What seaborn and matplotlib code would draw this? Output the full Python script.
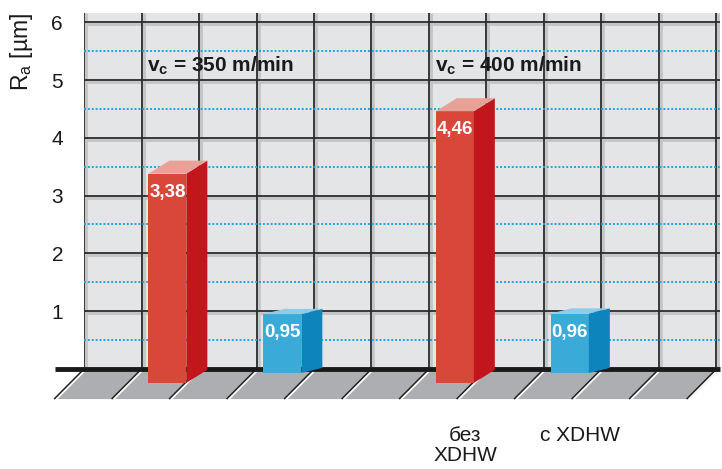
import numpy as np
import pandas as pd
import seaborn as sns
import matplotlib.pyplot as plt
from matplotlib.patches import Polygon
from matplotlib.transforms import offset_copy

# Data
headers = ["350 m/min", "400 m/min"]
series = ["без XDHW", "с XDHW", "без XDHW", "с XDHW"]
ra_values = [3.38, 0.95, 4.46, 0.96]
x_labels = ["", "", "без\nXDHW", "с XDHW"]
y_ticks = [1, 2, 3, 4, 5, 6]

# Colours for each series: front, side, top
colors = {
    "без XDHW": ("#d9473a", "#c3161c", "#e9a197"),
    "с XDHW": ("#3aaad9", "#0e84bc", "#8dcdea"),
}
# depth look of each series (floor level, top offset)
depth = {"без XDHW": (-0.24, 0.225), "с XDHW": (-0.07, 0.09)}

sns.set_style("white")
plt.rcParams["font.family"] = ["Liberation Sans", "DejaVu Sans"]
plt.rcParams["mathtext.fontset"] = "custom"
plt.rcParams["mathtext.rm"] = "Liberation Sans"
plt.rcParams["mathtext.bf"] = "Liberation Sans:bold"
plt.rcParams["mathtext.it"] = "Liberation Sans:italic"

fig = plt.figure(figsize=(7.22, 4.69), dpi=100)
ax = fig.add_axes([84 / 722, 100 / 469, 636 / 722, 356 / 469])
x_max = 636 / 57.5
y_max = 356 / 57.8

# Layout: bar slots in grid columns
slot_x = np.array([1.45, 3.45, 6.45, 8.45])
bar_w = 0.66
side_dx = 0.365

df = pd.DataFrame({"pos": slot_x, "ra": ra_values, "series": series})
sns.barplot(data=df, x="pos", y="ra", hue="series", native_scale=True, dodge=False,
            palette={k: v[0] for k, v in colors.items()}, saturation=1,
            errorbar=None, legend=False, linewidth=0, zorder=6, ax=ax)

# Move the front faces down onto the floor and add side and top faces
for p in list(ax.patches):
    cx = p.get_x() + p.get_width() / 2
    i = int(np.argmin(np.abs(slot_x - cx)))
    s = series[i]
    v = ra_values[i]
    floor, dy = depth[s]
    x0 = slot_x[i] - bar_w / 2
    x1 = slot_x[i] + bar_w / 2
    p.set_x(x0)
    p.set_width(bar_w)
    p.set_y(floor)
    p.set_height(v - floor)
    p.set_clip_on(False)
    side = Polygon([(x1, floor), (x1 + side_dx, floor + dy), (x1 + side_dx, v + dy), (x1, v)],
                   closed=True, facecolor=colors[s][1], edgecolor="none", zorder=6, clip_on=False)
    top = Polygon([(x0, v), (x1, v), (x1 + side_dx, v + dy), (x0 + side_dx, v + dy)],
                  closed=True, facecolor=colors[s][2], edgecolor="none", zorder=6, clip_on=False)
    ax.add_patch(side)
    ax.add_patch(top)
    ax.text(slot_x[i], v - 0.32, f"{v:.2f}".replace(".", ","), ha="center", va="center",
            color="white", fontsize=13.5, fontweight="bold", zorder=7)

# Background grid with a little bevel shadow
ax.set_facecolor("#e4e5e7")
shadow_x = offset_copy(ax.transData, fig=fig, x=2, y=0, units="dots")
shadow_y = offset_copy(ax.transData, fig=fig, x=0, y=-2, units="dots")
cols = np.arange(0, 12)
ax.vlines(cols, 0, y_max, color="#c3c4c6", lw=2, transform=shadow_x, zorder=1)
ax.hlines(y_ticks, 0, x_max, color="#c3c4c6", lw=2, transform=shadow_y, zorder=1)
ax.vlines(cols, 0, y_max, color="#2b2b2b", lw=1.3, zorder=2)
ax.hlines(y_ticks, 0, x_max, color="#2b2b2b", lw=1.3, zorder=2)
ax.hlines(np.arange(0.5, 6, 1), 0, x_max, color="#1ea6e0", lw=1.4,
          linestyle=(0, (1, 1)), zorder=3)

# Floor below the baseline
fd = 0.52
floor_poly = Polygon([(0, 0), (x_max, 0), (x_max - fd, -fd), (-fd, -fd)], closed=True,
                     facecolor="#adaeb1", edgecolor="none", zorder=2, clip_on=False)
ax.add_patch(floor_poly)
for k in cols:
    ax.plot([k, k - fd], [0, -fd], color="white", lw=1.6, transform=shadow_x,
            zorder=2.5, clip_on=False, solid_capstyle="butt")
    ax.plot([k, k - fd], [0, -fd], color="#222222", lw=1.1, zorder=2.6,
            clip_on=False, solid_capstyle="butt")
ax.hlines(0, -0.5, x_max, color="#1a1a1a", lw=3.5, zorder=4, clip_on=False)

# Headers
for j, h in enumerate(headers):
    ax.text(slot_x[2 * j] - bar_w / 2 - 0.02, 5.14, r"$\mathbf{v_c}$ = " + h,
            fontsize=15, fontweight="bold", color="#1a1a1a", ha="left", va="baseline", zorder=7)

ax.set_xlim(0, x_max)
ax.set_ylim(0, y_max)
ax.set_yticks(y_ticks)
ax.set_yticklabels([str(t) for t in y_ticks])
ax.set_xticks(slot_x + side_dx / 2)
ax.set_xticklabels(x_labels, linespacing=1.05)
ax.tick_params(axis="y", length=8.6, width=1.3, color="#2b2b2b", labelsize=15, pad=6.5,
               labelcolor="#1a1a1a")
ax.tick_params(axis="x", length=0, labelsize=15, pad=41, labelcolor="#1a1a1a")
ax.set_xlabel("")
ax.set_ylabel("")
for sp in ax.spines.values():
    sp.set_visible(False)

ax.text(-1.08, 5.48, r"R$_\mathrm{a}$ [µm]", rotation=90, ha="center", va="center",
        fontsize=16.5, color="#1a1a1a")

fig.savefig("out.png", dpi=100)
